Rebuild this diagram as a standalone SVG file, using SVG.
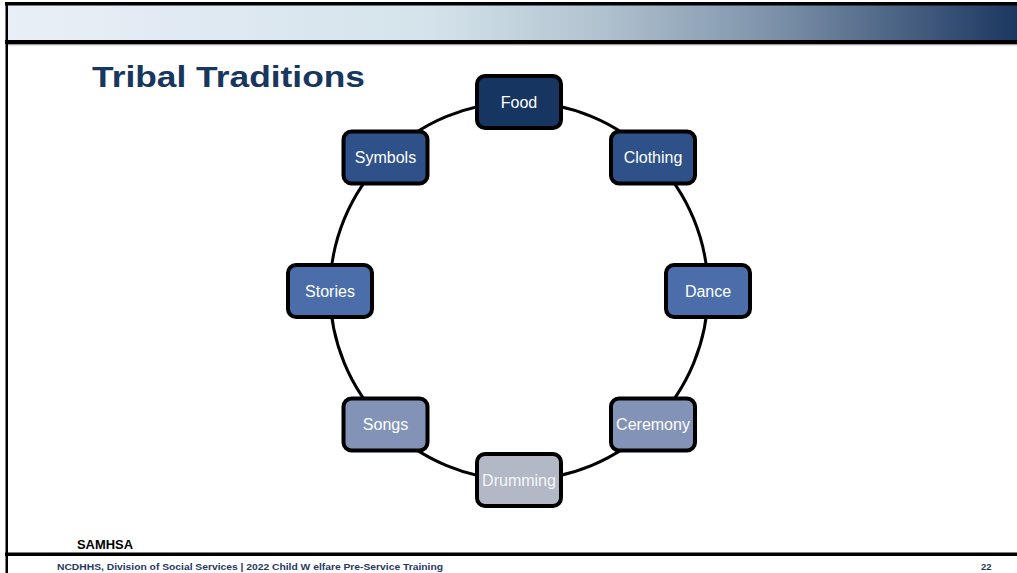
<svg xmlns="http://www.w3.org/2000/svg" width="1017" height="573" viewBox="0 0 1017 573">
<defs>
<linearGradient id="hdr" x1="0" y1="0" x2="1" y2="0">
<stop offset="0" stop-color="#E9EFF7"/>
<stop offset="0.42" stop-color="#D4E3EB"/>
<stop offset="0.58" stop-color="#B3C4D1"/>
<stop offset="0.75" stop-color="#8095AC"/>
<stop offset="1" stop-color="#1C3760"/>
</linearGradient>
<style>
.box{stroke:#000;stroke-width:4}
.lbl{font-family:"Liberation Sans",Arial,sans-serif;font-size:16px;fill:#fff;text-anchor:middle}
.conn{fill:none;stroke:#000;stroke-width:3}
</style>
</defs>
<rect width="1017" height="573" fill="#fff"/>
<g id="frame">
<rect x="8" y="5" width="1009" height="35" fill="url(#hdr)"/>
<rect x="5" y="2" width="1012" height="3.5" fill="#000"/>
<rect x="5" y="40" width="1012" height="4" fill="#000"/>
<rect x="8" y="44" width="1009" height="1.3" fill="#A0A0A0"/>
<rect x="5.5" y="2" width="2.5" height="571" fill="#000"/>
<rect x="5" y="552.5" width="1012" height="3.5" fill="#000"/>
</g>
<text x="92" y="87" font-family="'Liberation Sans',Arial,sans-serif" font-size="30" font-weight="bold" fill="#17375E" textLength="273" lengthAdjust="spacingAndGlyphs">Tribal Traditions</text>
<g id="connectors">
<path class="conn" d="M519 102 A189 189 0 0 1 652.6 157.4 A189 189 0 0 1 708 291 A189 189 0 0 1 652.6 424.6 A189 189 0 0 1 519 480 A189 189 0 0 1 385.4 424.6 A189 189 0 0 1 330 291 A189 189 0 0 1 385.4 157.4 A189 189 0 0 1 519 102 Z"/>
</g>
<g id="food"><rect class="box" x="477" y="76" width="84" height="52" rx="8" fill="#163561"/><text class="lbl" x="519" y="107.5">Food</text></g>
<g id="clothing"><rect class="box" x="611" y="131.5" width="84" height="52" rx="8" fill="#2D5188"/><text class="lbl" x="653" y="163">Clothing</text></g>
<g id="dance"><rect class="box" x="666" y="265" width="84" height="52" rx="8" fill="#4B6EAA"/><text class="lbl" x="708" y="296.5">Dance</text></g>
<g id="ceremony"><rect class="box" x="611" y="398.5" width="84" height="52" rx="8" fill="#8393B7"/><text class="lbl" x="653" y="430">Ceremony</text></g>
<g id="drumming"><rect class="box" x="477" y="454" width="84" height="52" rx="8" fill="#B2B8C6"/><text class="lbl" x="519" y="486" fill-opacity="0.9">Drumming</text></g>
<g id="songs"><rect class="box" x="343.5" y="398.5" width="84" height="52" rx="8" fill="#8393B7"/><text class="lbl" x="385.5" y="430">Songs</text></g>
<g id="stories"><rect class="box" x="288" y="265" width="84" height="52" rx="8" fill="#4B6EAA"/><text class="lbl" x="330" y="296.5">Stories</text></g>
<g id="symbols"><rect class="box" x="343.5" y="131.5" width="84" height="52" rx="8" fill="#2D5188"/><text class="lbl" x="385.5" y="163">Symbols</text></g>
<text x="77" y="549" font-family="'Liberation Sans',Arial,sans-serif" font-size="12" font-weight="bold" fill="#000" textLength="56" lengthAdjust="spacingAndGlyphs">SAMHSA</text>
<text x="57" y="570" font-family="'Liberation Sans',Arial,sans-serif" font-size="9.5" font-weight="bold" fill="#1F3864" textLength="386" lengthAdjust="spacingAndGlyphs">NCDHHS, Division of Social Services | 2022 Child W elfare Pre-Service Training</text>
<text x="981" y="570" font-family="'Liberation Sans',Arial,sans-serif" font-size="9.5" font-weight="bold" fill="#1F3864">22</text>
</svg>
